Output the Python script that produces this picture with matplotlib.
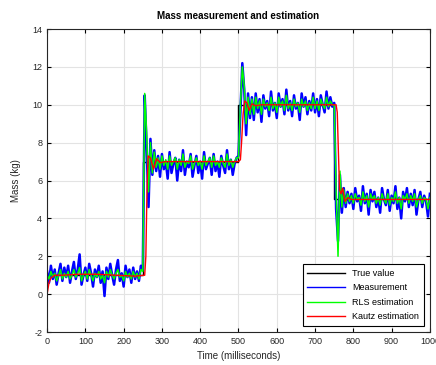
import numpy as np
import matplotlib
matplotlib.use('Agg')
from matplotlib import pyplot as plt

plt.rcParams['font.family'] = ['Liberation Sans', 'DejaVu Sans']
plt.rcParams['axes.unicode_minus'] = False

# true mass (step changes)
true_t = [0, 250, 500, 750, 1000]
true_v = [1, 7, 10, 5, 5]

# measurement, sampled every 5 ms from 0 to 1000
meas_t = np.arange(0, 1001, 5)
meas_v = [
    1.2, 0.6, 1.5, 0.8, 1.3, 0.5, 1.1, 1.6, 0.7, 1.4,
    0.9, 1.5, 0.6, 1.2, 1.7, 0.8, 1.3, 2.1, 0.5, 1.0,
    1.4, 0.7, 1.6, 1.1, 0.4, 1.3, 0.9, 1.5, 0.6, 1.2,
    -0.1, 1.4, 0.8, 1.6, 1.0, 0.5, 1.3, 1.8, 0.7, 1.1,
    0.4, 1.5, 0.9, 1.3, 0.6, 1.4, 0.8, 1.2, 0.7, 1.5,
    1.3, 10.5, 7.8, 4.6, 8.2, 6.3, 7.6, 6.5, 7.3, 6.2,
    7.4, 6.6, 7.0, 6.1, 7.5, 6.4, 6.9, 7.2, 6.0, 7.1,
    6.5, 7.6, 6.3, 7.0, 6.7, 7.4, 6.2, 6.8, 7.3, 6.4,
    7.0, 6.1, 7.5, 6.6, 6.9, 7.2, 6.3, 7.4, 6.5, 7.0,
    6.2, 7.3, 6.8, 6.4, 7.6, 6.6, 7.1, 6.3, 6.9, 7.2,
    7.3, 9.6, 12.2, 10.8, 8.4, 10.6, 9.3, 10.4, 9.2, 10.6,
    9.6, 10.3, 9.1, 10.5, 9.8, 10.2, 9.4, 10.7, 9.7, 10.1,
    9.3, 10.6, 9.9, 10.3, 9.5, 10.8, 9.7, 10.2, 9.4, 10.5,
    9.8, 10.1, 9.2, 10.6, 9.9, 10.4, 9.5, 10.2, 9.7, 10.6,
    9.6, 10.3, 9.4, 10.5, 10.0, 9.6, 10.7, 9.8, 10.4, 9.9,
    10.1, 4.5, 2.8, 6.3, 4.3, 5.6, 4.6, 5.4, 4.8, 5.3,
    4.5, 5.6, 4.9, 5.2, 4.4, 5.7, 4.8, 5.3, 4.2, 5.5,
    4.9, 5.4, 4.6, 5.1, 4.3, 5.6, 5.0, 4.7, 5.5, 4.4,
    5.2, 4.8, 5.7, 4.5, 5.1, 4.0, 5.4, 4.9, 5.6, 4.6,
    5.3, 4.7, 5.5, 4.2, 5.0, 5.4, 4.6, 5.2, 4.9, 4.1, 5.3,
]

# RLS estimate, same sampling
rls_v = [
    1.0, 0.8, 1.2, 0.9, 1.1, 0.7, 1.0, 1.3, 0.8, 1.1,
    0.9, 1.2, 0.8, 1.0, 1.3, 0.9, 1.1, 1.4, 0.7, 1.0,
    1.2, 0.8, 1.3, 1.0, 0.7, 1.1, 0.9, 1.2, 0.8, 1.0,
    0.6, 1.2, 0.9, 1.3, 1.0, 0.8, 1.1, 1.3, 0.9, 1.0,
    0.7, 1.2, 0.9, 1.1, 0.8, 1.2, 0.9, 1.1, 0.8, 1.3,
    1.2, 10.6, 8.5, 5.4, 8.0, 6.4, 7.5, 6.7, 7.2, 6.6,
    7.3, 6.8, 7.1, 6.6, 7.3, 6.8, 7.0, 7.2, 6.6, 7.1,
    6.8, 7.4, 6.7, 7.0, 6.9, 7.3, 6.6, 6.9, 7.2, 6.8,
    7.0, 6.6, 7.3, 6.8, 7.0, 7.2, 6.7, 7.3, 6.8, 7.0,
    6.7, 7.2, 6.9, 6.7, 7.4, 6.8, 7.1, 6.7, 7.0, 7.2,
    7.2, 10.0, 12.0, 11.0, 9.0, 10.4, 9.5, 10.3, 9.5, 10.4,
    9.8, 10.2, 9.5, 10.3, 9.9, 10.1, 9.7, 10.4, 9.8, 10.1,
    9.6, 10.4, 9.9, 10.2, 9.7, 10.5, 9.8, 10.1, 9.7, 10.3,
    9.9, 10.1, 9.6, 10.3, 9.9, 10.2, 9.7, 10.1, 9.8, 10.4,
    9.8, 10.2, 9.7, 10.3, 10.0, 9.8, 10.4, 9.9, 10.2, 10.0,
    10.0, 5.5, 2.0, 6.5, 4.6, 5.5, 4.8, 5.3, 4.9, 5.2,
    4.8, 5.3, 5.0, 5.1, 4.7, 5.4, 4.9, 5.2, 4.6, 5.3,
    5.0, 5.2, 4.8, 5.1, 4.7, 5.3, 5.0, 4.8, 5.3, 4.7,
    5.1, 4.9, 5.4, 4.8, 5.1, 4.5, 5.2, 5.0, 5.3, 4.8,
    5.2, 4.9, 5.3, 4.6, 5.0, 5.2, 4.8, 5.1, 5.0, 4.5, 5.1,
]

# Kautz estimate (smooth)
kautz_t = [0, 5, 10, 20, 40, 80, 130, 180, 230, 255, 258, 261, 264, 270, 278,
           286, 295, 310, 400, 500, 505, 508, 512, 516, 522, 528, 535, 545, 560,
           700, 755, 758, 761, 764, 768, 772, 778, 786, 795, 900, 1000]
kautz_v = [0.0, 0.6, 0.85, 1.0, 1.0, 1.05, 1.05, 1.0, 0.95, 1.0, 2.0, 5.5, 7.3, 7.2, 6.6,
           7.15, 6.95, 7.0, 7.0, 7.0, 7.1, 8.0, 9.5, 10.2, 10.1, 9.7, 10.05, 9.95, 10.0,
           10.0, 10.0, 9.6, 7.5, 5.5, 5.3, 5.6, 4.9, 5.1, 5.0, 5.0, 5.0]

fig = plt.figure(figsize=(4.36, 3.65), dpi=100)
ax = fig.add_axes([0.108, 0.0904, 0.878, 0.830])

ax.plot(true_t, true_v, color='black', lw=1, drawstyle='steps-post', label='True value')
ax.plot(meas_t, meas_v, color='blue', lw=1.8, label='Measurement')
ax.plot(meas_t, rls_v, color='lime', lw=1.1, label='RLS estimation')
ax.plot(kautz_t, kautz_v, color='red', lw=1, label='Kautz estimation')

ax.set_xlim(0, 1000)
ax.set_ylim(-2, 14)
ax.set_xticks(range(0, 1001, 100))
ax.set_yticks(range(-2, 15, 2))
ax.grid(True, color='#e3e3e3', lw=0.8)
ax.set_axisbelow(True)
ax.tick_params(direction='in', top=True, right=True, labelsize=6.5,
               labelcolor='#262626', length=3, width=0.8)
for s in ax.spines.values():
    s.set_linewidth(0.8)
    s.set_color('#262626')

ax.set_title('Mass measurement and estimation', fontsize=7, fontweight='bold', pad=7)
ax.set_xlabel('Time (milliseconds)', fontsize=7, color='#262626', labelpad=4)
ax.set_ylabel('Mass (kg)', fontsize=7, color='#262626', labelpad=8)

leg = ax.legend(loc='lower right', fontsize=6.5, handlelength=4.2, fancybox=False,
                edgecolor='black', framealpha=1, borderaxespad=0.7,
                borderpad=0.5, labelspacing=0.6)
leg.get_frame().set_linewidth(0.8)
for line in leg.get_lines():
    line.set_linewidth(1)

fig.savefig('out.png', dpi=100)
